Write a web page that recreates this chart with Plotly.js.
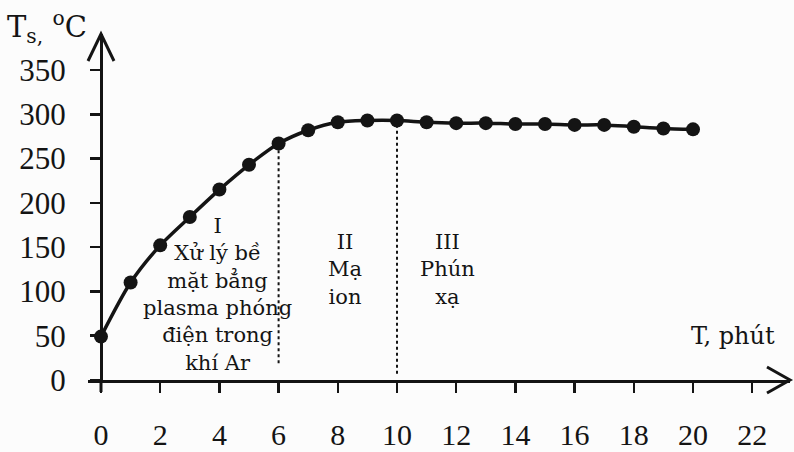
<!DOCTYPE html>
<html><head><meta charset="utf-8">
<script src="https://cdn.plot.ly/plotly-3.0.1.min.js"></script>
<style>html,body{margin:0;padding:0;background:#fcfcfc}</style>
</head><body><div id="chart" style="width:794px;height:452px"></div>
<script>
// ---- data ----
const timeMin = [0,1,2,3,4,5,6,7,8,9,10,11,12,13,14,15,16,17,18,19,20];
const tempC   = [49,110,152,184,215,243,267,282,291,293,293,291,290,290,289,289,288,288,286,284,283];
const xTickVals = [0,2,4,6,8,10,12,14,16,18,20,22];
const xTickText = ['0','2','4','6','8','10','12','14','16','18','20','22'];
const yTickVals = [0,50,100,150,200,250,300,350];
const yTickText = ['0','50','100','150','200','250','300','350'];
const regionBounds = [6,10];
const regionLabels = [
  'I<br>Xử lý bề<br>mặt bẳng<br>plasma phóng<br>điện trong<br>khí Ar',
  'II<br>Mạ<br>ion',
  'III<br>Phún<br>xạ'
];
const yTitle = 'T<sub>s,</sub> <sup>o</sup>C';
const xTitle = 'T, phút';

// ---- layout geometry ----
const W=794,H=452,L=88,R=4,T=34,B=72;
const PW=W-L-R, PH=H-T-B;
const px=x=>(x-L)/PW, py=y=>(H-B-y)/PH;
const ink='#141414';

const trace = {
  x: timeMin, y: tempC, type:'scatter', mode:'lines+markers',
  line:{shape:'spline', smoothing:0.8, width:3.5, color:ink},
  marker:{size:14, color:ink},
  cliponaxis:false, hoverinfo:'skip', showlegend:false
};

const boundBottom=[19,7];
const shapes = regionBounds.map((b,i)=>({
  type:'line', xref:'x', yref:'y', x0:b, x1:b, y0:boundBottom[i], y1:tempC[timeMin.indexOf(b)],
  line:{color:ink, width:2, dash:'dot'}, layer:'below'
}));
// y axis extension below x axis
shapes.push({type:'line', xref:'x', yref:'paper', x0:0, x1:0, y0:py(392), y1:0, line:{color:ink,width:3}});
// arrow heads
shapes.push({type:'path', xref:'paper', yref:'paper',
  path:`M ${px(88)} ${py(61)} L ${px(101)} ${py(34)} L ${px(114)} ${py(61)}`,
  line:{color:ink,width:3}});
shapes.push({type:'path', xref:'paper', yref:'paper',
  path:`M ${px(767)} ${py(367)} L ${px(790)} ${py(380)} L ${px(767)} ${py(393)}`,
  line:{color:ink,width:3}});

const lblFont={family:'DejaVu Serif', size:21, color:ink};
const annotations = [
  {text:regionLabels[0], xref:'x', yref:'y', x:3.95, y:97, showarrow:false, align:'center', font:lblFont},
  {text:regionLabels[1], xref:'x', yref:'y', x:8.24, y:125, showarrow:false, align:'center', font:lblFont},
  {text:regionLabels[2], xref:'x', yref:'y', x:11.7, y:125, showarrow:false, align:'center', font:lblFont},
  {text:yTitle, xref:'paper', yref:'paper', x:px(5), y:py(4), xanchor:'left', yanchor:'top', showarrow:false,
   font:{family:'DejaVu Serif', size:29, color:ink}},
  {text:xTitle, xref:'paper', yref:'paper', x:px(689), y:py(336), xanchor:'left', yanchor:'middle', showarrow:false,
   font:{family:'DejaVu Serif', size:24, color:ink}}
];

const layout = {
  width:W, height:H, margin:{l:L,r:R,t:T,b:B,pad:0},
  paper_bgcolor:'#fcfcfc', plot_bgcolor:'#fcfcfc',
  xaxis:{range:[-13/29.6, 689/29.6], showline:true, linewidth:3, linecolor:ink,
    ticks:'outside', ticklen:10, tickwidth:2.5, tickcolor:ink,
    tickmode:'array', tickvals:xTickVals, ticktext:xTickText,
    tickfont:{family:'Liberation Serif', size:30, color:ink}, ticklabelstandoff:16,
    showgrid:false, zeroline:false, fixedrange:true},
  yaxis:{range:[0, 346/0.8857], anchor:'free', position:px(101), showline:true, linewidth:3, linecolor:ink,
    ticks:'outside', ticklen:10, tickwidth:2.5, tickcolor:ink,
    tickmode:'array', tickvals:yTickVals, ticktext:yTickText,
    tickfont:{family:'Liberation Serif', size:31, color:ink}, ticklabelstandoff:18,
    showgrid:false, zeroline:false, fixedrange:true},
  shapes:shapes, annotations:annotations, showlegend:false
};
Plotly.newPlot('chart',[trace],layout,{displayModeBar:false, staticPlot:true});
</script></body></html>
